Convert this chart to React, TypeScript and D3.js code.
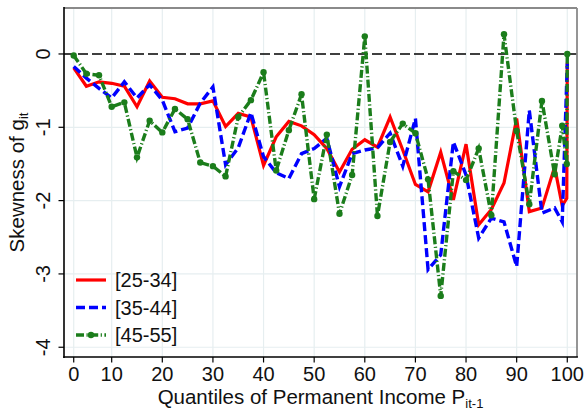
import React from "react";
import * as d3 from "d3";

const quantiles = [
  2.5, 5, 7.5, 10, 12.5, 15, 17.5, 20, 22.5, 25, 27.5, 30, 32.5, 35, 37.5, 40, 42.5, 45, 47.5, 50,
  52.5, 55, 57.5, 60, 62.5, 65, 67.5, 70, 72.5, 75, 77.5, 80, 82.5, 85, 87.5, 90, 92.5, 95, 97.5,
  99, 99.9, 100,
];

const age25_34 = [
  -0.19, -0.44, -0.38, -0.4, -0.44, -0.72, -0.37, -0.59, -0.61, -0.68, -0.68, -0.64, -0.99, -0.81,
  -0.86, -1.52, -1.13, -0.92, -0.98, -1.1, -1.29, -1.61, -1.3, -1.17, -1.27, -0.86, -1.31, -1.78,
  -1.88, -1.34, -1.99, -1.23, -2.33, -2.12, -1.76, -0.88, -2.15, -2.1, -1.54, -2.07, -1.97, -0.12,
];

const age35_44 = [
  -0.17, -0.33, -0.47, -0.6, -0.38, -0.6, -0.42, -0.63, -1.06, -1.01, -0.67, -0.45, -1.51, -1.28,
  -0.8, -1.4, -1.62, -1.7, -1.36, -1.29, -1.15, -1.81, -1.36, -1.31, -1.28, -1.08, -1.53, -0.88,
  -2.94, -2.74, -1.2, -1.65, -2.51, -2.24, -2.29, -2.9, -0.77, -2.17, -2.1, -2.29, -0.35, -0.13,
];

const age45_55 = [
  -0.02, -0.27, -0.29, -0.72, -0.66, -1.41, -0.91, -1.07, -0.75, -0.89, -1.48, -1.53, -1.67, -0.86,
  -0.63, -0.25, -1.59, -1.04, -0.55, -1.98, -1.1, -2.18, -1.65, 0.24, -2.21, -1.2, -0.95, -1.08,
  -1.71, -3.3, -1.6, -1.72, -1.29, -2.2, 0.27, -1.05, -2.05, -0.64, -1.64, -0.98, -1.5, 0.0,
];

const seriesNames = ["[25-34]", "[35-44]", "[45-55]"];

const xTickValues = [2.5, 10, 20, 30, 40, 50, 60, 70, 80, 90, 100];
const xTickLabels = ["0", "10", "20", "30", "40", "50", "60", "70", "80", "90", "100"];
const yTickValues = [0, -1, -2, -3, -4];
const yTickLabels = ["0", "-1", "-2", "-3", "-4"];

const W = 585;
const H = 410;
const left = 64;
const right = 577;
const top = 8;
const bottom = 357;

const FONT = "'Liberation Sans', Arial, Helvetica, sans-serif";

export default function App() {
  const x = d3.scaleLinear().domain([0.58, 101.92]).range([left, right]);
  const y = d3.scaleLinear().domain([0.627, -4.133]).range([top, bottom]);

  const mk = (vals: number[]) =>
    d3
      .line<number>()
      .x((_, i) => x(quantiles[i]))
      .y((v) => y(v))(vals) || "";

  const red = "#ff0000";
  const blue = "#0000ff";
  const green = "#1b7d1b";
  const grid = "#e6eef0";

  const styles = [
    { color: red, dash: undefined as string | undefined, width: 3.2, marker: false },
    { color: blue, dash: "9,4", width: 3.4, marker: false },
    { color: green, dash: "8,2.5,1.2,2.5", width: 3.4, marker: true },
  ];
  const data = [age25_34, age35_44, age45_55];

  const legendY = [280, 307.5, 335];

  return (
    <svg
      width={W}
      height={H}
      style={{ position: "absolute", left: 0, top: 0, background: "#fff" }}
      fontFamily={FONT}
    >
      <rect x={0} y={0} width={W} height={H} fill="#fff" />
      {/* gridlines */}
      {xTickValues.map((v, i) => (
        <line key={"gx" + i} x1={x(v)} x2={x(v)} y1={top} y2={bottom} stroke={grid} strokeWidth={1.2} />
      ))}
      {yTickValues.slice(1).map((v, i) => (
        <line key={"gy" + i} x1={left} x2={right} y1={y(v)} y2={y(v)} stroke={grid} strokeWidth={1.2} />
      ))}
      {/* zero line */}
      <line x1={left} x2={right} y1={y(0)} y2={y(0)} stroke="#000" strokeWidth={1.4} strokeDasharray="10,4" />

      {/* series */}
      {data.map((vals, si) => (
        <path
          key={"s" + si}
          d={mk(vals)}
          fill="none"
          stroke={styles[si].color}
          strokeWidth={styles[si].width}
          strokeDasharray={styles[si].dash}
          strokeLinejoin="miter"
        />
      ))}
      {age45_55.map((v, i) => (
        <circle key={"m" + i} cx={x(quantiles[i])} cy={y(v)} r={3.2} fill={green} />
      ))}

      {/* frame */}
      <line x1={left} x2={right} y1={top} y2={top} stroke="#8a8a8a" strokeWidth={1.8} />
      <line x1={right} x2={right} y1={top} y2={bottom} stroke="#8a8a8a" strokeWidth={1.8} />
      <line x1={left} x2={left} y1={top - 0.9} y2={bottom + 0.9} stroke="#000" strokeWidth={1.6} />
      <line x1={left - 0.8} x2={right + 0.9} y1={bottom} y2={bottom} stroke="#000" strokeWidth={1.6} />

      {/* x ticks */}
      {xTickValues.map((v, i) => (
        <g key={"xt" + i}>
          <line x1={x(v)} x2={x(v)} y1={bottom} y2={bottom + 5.5} stroke="#000" strokeWidth={1.2} />
          <text x={x(v)} y={381} textAnchor="middle" fontSize={20} fill="#111">
            {xTickLabels[i]}
          </text>
        </g>
      ))}
      {/* y ticks */}
      {yTickValues.map((v, i) => (
        <g key={"yt" + i}>
          <line x1={left - 5.5} x2={left} y1={y(v)} y2={y(v)} stroke="#000" strokeWidth={1.2} />
          <text
            transform={`translate(49.5,${y(v)}) rotate(-90)`}
            textAnchor="middle"
            fontSize={20}
            fill="#111"
          >
            {yTickLabels[i]}
          </text>
        </g>
      ))}

      {/* axis titles */}
      <text x={(left + right) / 2} y={403.5} textAnchor="middle" fontSize={20.5} fill="#111">
        Quantiles of Permanent Income P
        <tspan fontSize={13} dy={4}>
          it-1
        </tspan>
      </text>
      <text
        transform={`translate(24,${(top + bottom) / 2}) rotate(-90)`}
        textAnchor="middle"
        fontSize={20.5}
        fill="#111"
      >
        Skewness of g
        <tspan fontSize={13} dy={4}>
          it
        </tspan>
      </text>

      {/* legend */}
      {seriesNames.map((name, i) => (
        <g key={"lg" + i}>
          <line
            x1={76}
            x2={106}
            y1={legendY[i]}
            y2={legendY[i]}
            stroke={styles[i].color}
            strokeWidth={styles[i].width}
            strokeDasharray={styles[i].dash}
          />
          {styles[i].marker && <circle cx={91} cy={legendY[i]} r={3.2} fill={green} />}
          <text x={115} y={legendY[i] + 7} fontSize={20} fill="#111">
            {name}
          </text>
        </g>
      ))}
    </svg>
  );
}
